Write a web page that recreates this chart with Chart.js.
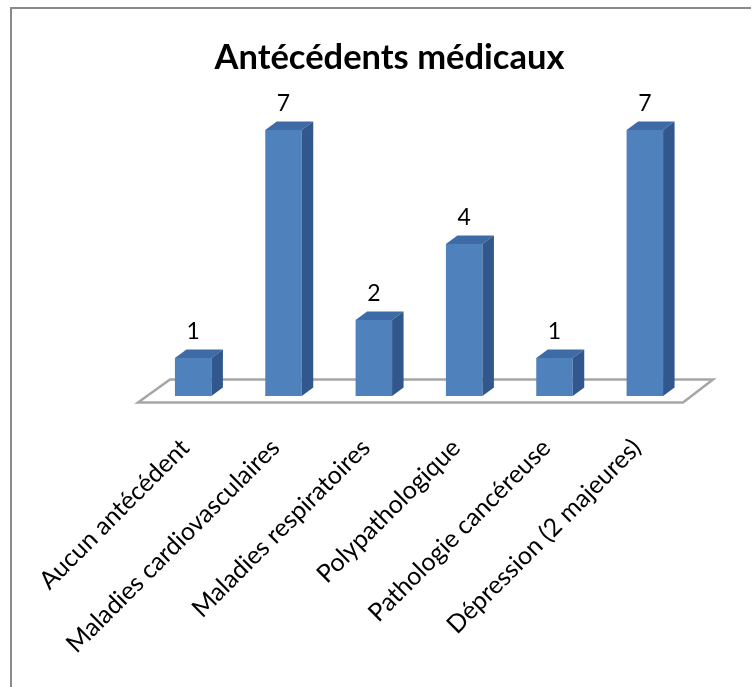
<!DOCTYPE html>
<html>
<head>
<meta charset="utf-8">
<title>Antécédents médicaux</title>
<script src="https://cdn.jsdelivr.net/npm/chart.js@4.4.1/dist/chart.umd.min.js"></script>
<style>
  html, body { margin: 0; padding: 0; background: #fff; overflow: hidden; }
  #wrap { position: relative; width: 753px; height: 687px; overflow: hidden; }
  #chart { display: block; }
</style>
</head>
<body>
<div id="wrap"><canvas id="chart"></canvas></div>
<script>
const categories = [
  "Aucun antécédent",
  "Maladies cardiovasculaires",
  "Maladies respiratoires",
  "Polypathologique",
  "Pathologie cancéreuse",
  "Dépression (2 majeures)",
];
const counts = [1, 7, 2, 4, 1, 7];
const chartTitle = "Antécédents médicaux";

const FONT = "Lato";
const frontColor = "#4f81bd";
const topColor = "#3e6aa6";
const sideColor = "#31578c";
const depth = { dx: 11.5, dy: 8.5 };

// fake 3d: floor, bar tops/sides, value labels, outer frame
const excel3d = {
  id: "excel3d",
  beforeDraw(chart) {
    const { ctx, width, height } = chart;
    // only the top and left edges of the frame are inside the picture
    ctx.save();
    ctx.fillStyle = "#fff";
    ctx.fillRect(0, 0, width, height);
    ctx.fillStyle = "#8a8a8a";
    ctx.fillRect(10, 7, 2, height);
    ctx.fillRect(10, 7, width - 12, 2);
    ctx.restore();
  },
  beforeDatasetsDraw(chart) {
    const { ctx, chartArea: a } = chart;
    ctx.save();
    ctx.beginPath();
    ctx.moveTo(a.left - 10, a.bottom + 6.5);
    ctx.lineTo(a.right - 7, a.bottom + 6.5);
    ctx.lineTo(a.right + 23, a.bottom - 16.5);
    ctx.lineTo(a.left + 22, a.bottom - 16.5);
    ctx.closePath();
    ctx.fillStyle = "#fff";
    ctx.fill();
    ctx.strokeStyle = "#a6a6a6";
    ctx.lineWidth = 2.5;
    ctx.stroke();
    ctx.restore();
  },
  afterDatasetsDraw(chart) {
    const { ctx } = chart;
    const meta = chart.getDatasetMeta(0);
    ctx.save();
    meta.data.forEach((bar, i) => {
      const l = bar.x - bar.width / 2;
      const r = bar.x + bar.width / 2;
      const t = bar.y;
      const b = bar.base;
      ctx.fillStyle = topColor;
      ctx.beginPath();
      ctx.moveTo(l, t);
      ctx.lineTo(l + depth.dx, t - depth.dy);
      ctx.lineTo(r + depth.dx, t - depth.dy);
      ctx.lineTo(r, t);
      ctx.closePath();
      ctx.fill();
      ctx.fillStyle = sideColor;
      ctx.beginPath();
      ctx.moveTo(r, t);
      ctx.lineTo(r + depth.dx, t - depth.dy);
      ctx.lineTo(r + depth.dx, b - depth.dy);
      ctx.lineTo(r, b);
      ctx.closePath();
      ctx.fill();

      ctx.fillStyle = "#000";
      ctx.font = `23px ${FONT}`;
      ctx.textAlign = "center";
      ctx.textBaseline = "alphabetic";
      ctx.fillText(String(counts[i]), bar.x, t - 19);
    });
    ctx.restore();
  },
};

// front face: light horizontal shading like the office 3d bars
const frontFill = (c) => {
  const bar = c.chart.getDatasetMeta(0).data[c.dataIndex];
  if (!bar || !bar.width) return frontColor;
  const g = c.chart.ctx.createLinearGradient(bar.x - bar.width / 2, 0, bar.x + bar.width / 2, 0);
  g.addColorStop(0, "#4a7bb8");
  g.addColorStop(0.45, "#5184c0");
  g.addColorStop(1, "#4777b3");
  return g;
};

new Chart(document.getElementById("chart"), {
  type: "bar",
  data: {
    labels: categories,
    datasets: [
      {
        data: counts,
        backgroundColor: frontFill,
        borderWidth: 0,
        barPercentage: 0.404,
        categoryPercentage: 1,
      },
    ],
  },
  options: {
    responsive: true,
    maintainAspectRatio: false,
    animation: false,
    devicePixelRatio: 1,
    layout: { padding: { left: 26, top: 0, right: 0, bottom: 0 } },
    plugins: {
      legend: { display: false },
      tooltip: { enabled: false },
      title: {
        display: true,
        text: chartTitle,
        color: "#000",
        font: { family: FONT, size: 34.5, weight: "bold", lineHeight: 1.2 },
        padding: { top: 37, bottom: 13.6 },
      },
    },
    scales: {
      x: {
        grid: { display: false, drawTicks: false },
        border: { display: false },
        ticks: {
          color: "#000",
          font: { family: FONT, size: 25 },
          autoSkip: false,
          minRotation: 45,
          maxRotation: 45,
          padding: 37,
          labelOffset: -8,
        },
        afterFit: (s) => { s.height = 291; },
      },
      y: {
        min: 0,
        max: 8,
        grid: { display: false },
        border: { display: false },
        ticks: { display: false },
        afterFit: (s) => { s.width = 122; },
      },
      y2: {
        position: "right",
        min: 0,
        max: 1,
        grid: { display: false },
        border: { display: false },
        ticks: { display: false },
        afterFit: (s) => { s.width = 63; },
      },
    },
  },
  plugins: [excel3d],
});
</script>
</body>
</html>
